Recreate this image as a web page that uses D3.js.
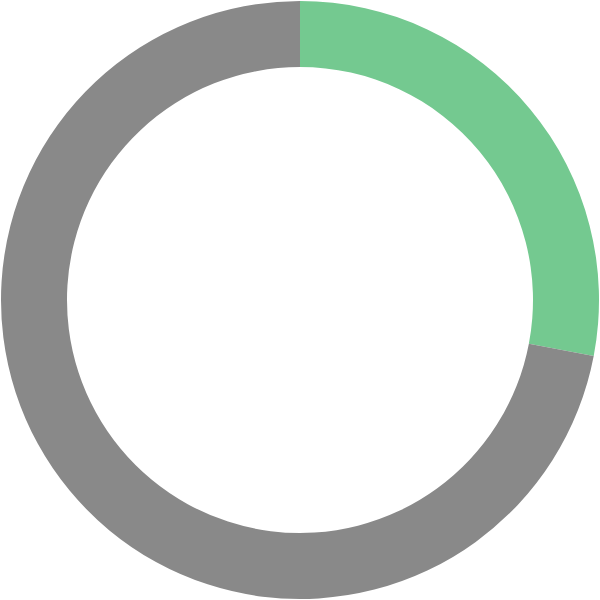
<!DOCTYPE html>
<html>
<head>
<meta charset="utf-8">
<script src="https://cdn.jsdelivr.net/npm/d3@7"></script>
<style>
  html, body { margin: 0; padding: 0; background: #fff; }
</style>
</head>
<body>
<div id="chart"></div>
<script>
// -------------------- DATA --------------------
const categories = ["Done", "Remaining"];
const values = [28, 72];
const colors = ["#74c990", "#898989"];

// -------------------- VISUALIZATION --------------------
function createDonut(width, height, source) {
    const outer = 299;
    const inner = 233;

    const svg = d3.select(source)
        .append("svg")
        .attr("width", width)
        .attr("height", height)
        .attr("viewBox", [0, 0, width, height]);

    const data = categories.map((c, i) => ({ name: c, value: values[i] }));

    const pie = d3.pie()
        .value(d => d.value)
        .sort(null);

    const arc = d3.arc()
        .innerRadius(inner)
        .outerRadius(outer);

    const color = d3.scaleOrdinal()
        .domain(categories)
        .range(colors);

    svg.append("g")
        .attr("transform", `translate(${width / 2},${height / 2})`)
        .selectAll("path")
        .data(pie(data))
        .join("path")
        .attr("fill", d => color(d.data.name))
        .attr("d", arc);

    return svg.node();
}

createDonut(600, 600, "#chart");
</script>
</body>
</html>
